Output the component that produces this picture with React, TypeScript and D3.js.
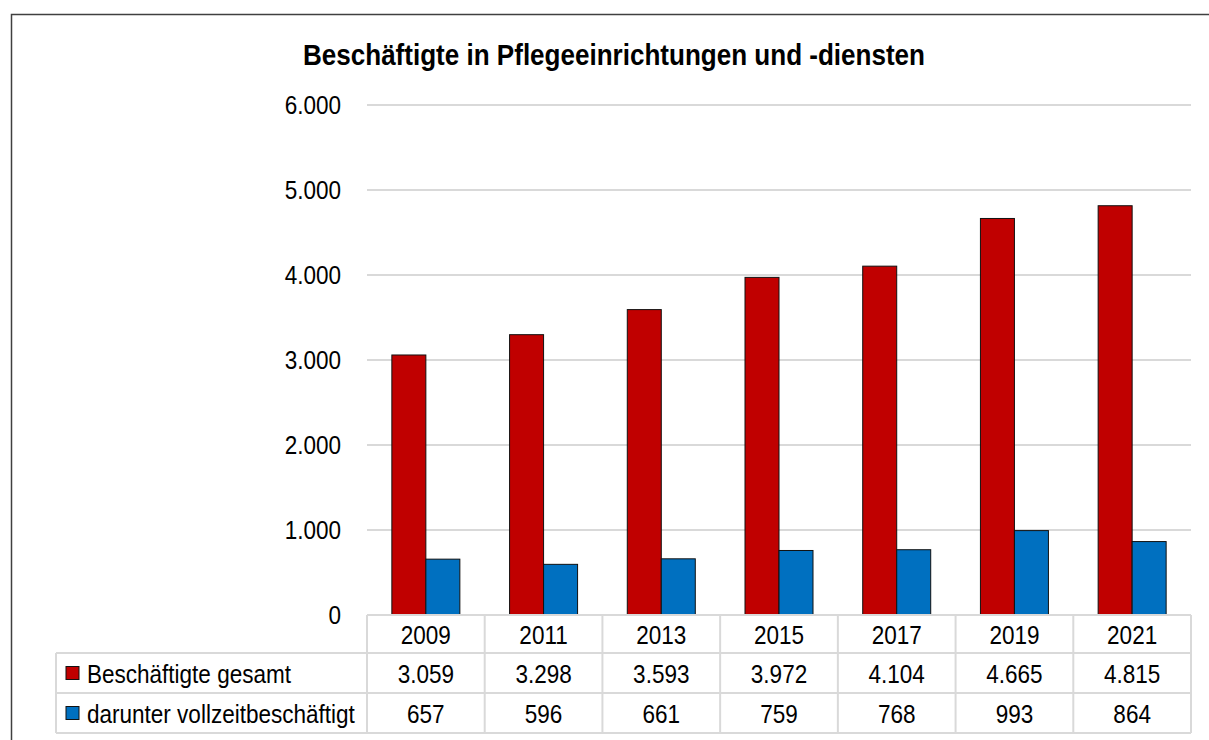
import React from "react";
import * as d3 from "d3";

const title = "Beschäftigte in Pflegeeinrichtungen und -diensten";
const years = ["2009", "2011", "2013", "2015", "2017", "2019", "2021"];
const seriesNames = ["Beschäftigte gesamt", "darunter vollzeitbeschäftigt"];
const totalValues = [3059, 3298, 3593, 3972, 4104, 4665, 4815];
const fullTimeValues = [657, 596, 661, 759, 768, 993, 864];
const yTicks = [0, 1000, 2000, 3000, 4000, 5000, 6000];
const seriesColors = ["#c00000", "#0070c0"];

const W = 1209;
const H = 740;
const plotLeft = 367;
const plotRight = 1191;
const plotTop = 105;
const plotBottom = 615;
const legendLeft = 56;
const rowH = [38, 40, 40];
const SX = 0.85;
const FS = 26.5;
const FONT = "'Liberation Sans', Arial, sans-serif";

const de = d3.formatLocale({
  decimal: ",",
  thousands: ".",
  grouping: [3],
  currency: ["", " €"],
});
const fmt = de.format(",d");

function T({ x, y, anchor = "middle", children, size = FS, weight = "normal" }: any) {
  return (
    <text
      transform={`translate(${x},${y}) scale(${SX},1)`}
      textAnchor={anchor}
      fontFamily={FONT}
      fontSize={size}
      fontWeight={weight}
      fill="#000"
    >
      {children}
    </text>
  );
}

export default function App() {
  const x = d3.scaleBand<string>().domain(years).range([plotLeft, plotRight]).padding(0);
  const y = d3.scaleLinear().domain([0, 6000]).range([plotBottom, plotTop]);
  const barW = 34;
  const series = [totalValues, fullTimeValues];

  const row1Top = plotBottom;
  const row2Top = row1Top + rowH[0];
  const row3Top = row2Top + rowH[1];
  const tableBottom = row3Top + rowH[2];
  const gridColor = "#d9d9d9";

  return (
    <svg
      width={W}
      height={H}
      style={{ position: "absolute", left: 0, top: 0, background: "#fff" }}
    >
      <rect x={0} y={0} width={W} height={H} fill="#fff" />
      <rect x={11.5} y={14.5} width={1260} height={800} fill="none" stroke="#404040" strokeWidth={1.5} />

      <text
        x={614}
        y={65}
        textAnchor="middle"
        fontFamily={FONT}
        fontSize={30}
        fontWeight="bold"
        textLength={622}
        lengthAdjust="spacingAndGlyphs"
      >
        {title}
      </text>

      {/* gridlines */}
      {yTicks.filter((t) => t > 0).map((t) => (
        <line key={t} x1={plotLeft} x2={plotRight} y1={y(t)} y2={y(t)} stroke={gridColor} strokeWidth={2} />
      ))}

      {/* y tick labels */}
      {yTicks.map((t) => (
        <T key={t} x={341} y={y(t) + 9} anchor="end">
          {fmt(t)}
        </T>
      ))}

      {/* bars */}
      {years.map((yr) => {
        const cx = (x(yr) as number) + x.bandwidth() / 2;
        return (
          <g key={yr}>
            {series.map((vals, si) => {
              const v = vals[years.indexOf(yr)];
              const bx = cx - barW + si * barW;
              return (
                <rect
                  key={si}
                  x={bx}
                  y={y(v)}
                  width={barW}
                  height={y(0) - y(v)}
                  fill={seriesColors[si]}
                  stroke="#111"
                  strokeWidth={1}
                />
              );
            })}
          </g>
        );
      })}

      {/* data table grid */}
      <g stroke={gridColor} strokeWidth={2} fill="none">
        <line x1={plotLeft} x2={plotRight} y1={row1Top} y2={row1Top} />
        <line x1={legendLeft} x2={plotRight} y1={row2Top} y2={row2Top} />
        <line x1={legendLeft} x2={plotRight} y1={row3Top} y2={row3Top} />
        <line x1={legendLeft} x2={plotRight} y1={tableBottom} y2={tableBottom} />
        <line x1={legendLeft} x2={legendLeft} y1={row2Top} y2={tableBottom} />
        {years.map((yr) => (
          <line key={yr} x1={x(yr) as number} x2={x(yr) as number} y1={row1Top} y2={tableBottom} />
        ))}
        <line x1={plotRight} x2={plotRight} y1={row1Top} y2={tableBottom} />
      </g>

      {/* header row */}
      {years.map((yr) => (
        <T key={yr} x={(x(yr) as number) + x.bandwidth() / 2} y={row1Top + rowH[0] / 2 + 9.5}>
          {yr}
        </T>
      ))}

      {/* series rows */}
      {series.map((vals, si) => {
        const top = si === 0 ? row2Top : row3Top;
        const cy = top + rowH[si + 1] / 2;
        return (
          <g key={si}>
            <rect x={66} y={cy - 6.5} width={13} height={13} fill={seriesColors[si]} stroke="#111" strokeWidth={1} />
            <T x={87} y={cy + 9.5} anchor="start">
              {seriesNames[si]}
            </T>
            {vals.map((v, i) => (
              <T key={i} x={(x(years[i]) as number) + x.bandwidth() / 2} y={cy + 9.5}>
                {fmt(v)}
              </T>
            ))}
          </g>
        );
      })}
    </svg>
  );
}
